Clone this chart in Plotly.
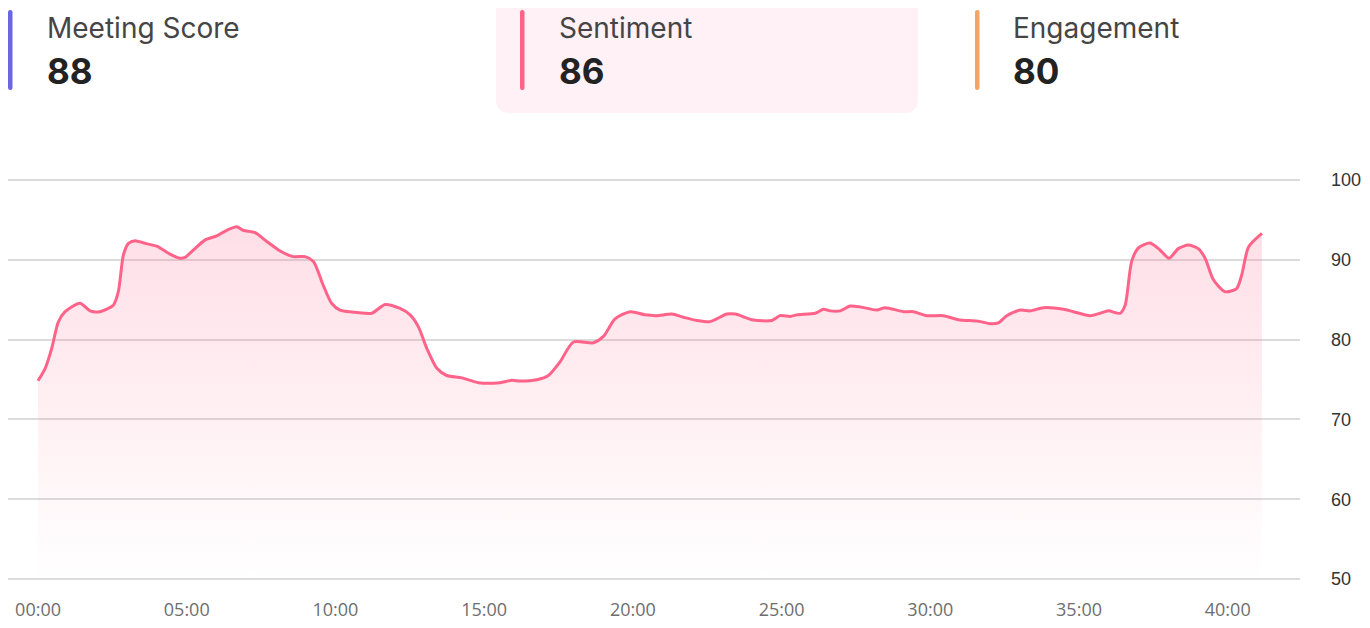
import plotly.graph_objects as go

# ---- data ----
time_min = [0, 0.24, 0.46, 0.68, 0.91, 1.41, 1.75, 2.08, 2.53, 2.70, 2.87, 3.04, 3.26, 3.6, 3.99,
            4.44, 4.77, 4.94, 5.22, 5.62, 6.01, 6.34, 6.68, 6.90, 7.30, 7.69, 8.14, 8.58, 8.98,
            9.26, 9.59, 9.87, 10.15, 10.72, 11.22, 11.67, 12.17, 12.51, 12.79, 13.07, 13.41,
            13.74, 14.25, 14.81, 15.53, 15.93, 16.21, 16.77, 17.16, 17.55, 18.0, 18.67, 19.01,
            19.40, 19.91, 20.4, 20.8, 21.31, 21.7, 22.15, 22.6, 23.16, 23.44, 24.05, 24.67, 24.95,
            25.29, 25.51, 26.13, 26.41, 26.63, 26.97, 27.3, 27.64, 28.2, 28.48, 29.1, 29.43,
            29.88, 30.44, 30.94, 31.62, 32.01, 32.29, 32.57, 33.02, 33.36, 33.8, 34.48, 34.81,
            35.37, 35.71, 35.99, 36.38, 36.55, 36.77, 37.0, 37.39, 37.73, 38.03, 38.34, 38.68,
            39.01, 39.24, 39.52, 39.91, 40.3, 40.47, 40.7, 41.15]
sentiment = [74.85, 76.4, 78.9, 82.2, 83.5, 84.55, 83.6, 83.5, 84.3, 86.0, 90.6, 92.06, 92.4, 92.06, 91.7,
             90.7, 90.2, 90.3, 91.2, 92.5, 93.0, 93.7, 94.15, 93.7, 93.4, 92.3, 91.1, 90.4, 90.4,
             89.8, 86.8, 84.55, 83.7, 83.4, 83.3, 84.4, 83.9, 83.1, 81.6, 78.9, 76.4,
             75.5, 75.2, 74.6, 74.6, 74.9, 74.8, 74.97, 75.5, 77.2, 79.7, 79.6, 80.4,
             82.6, 83.5, 83.1, 83.0, 83.2, 82.8, 82.4, 82.25, 83.2, 83.2, 82.45, 82.4, 83.0,
             82.9, 83.1, 83.3, 83.8, 83.6, 83.6, 84.2, 84.1, 83.7, 84.0, 83.5, 83.5,
             83.0, 83.0, 82.5, 82.3, 82.0, 82.1, 83.0, 83.7, 83.6, 84.0, 83.8, 83.5,
             83.0, 83.3, 83.6, 83.3, 84.3, 89.8, 91.5, 92.1, 91.2, 90.2, 91.4, 91.85,
             91.4, 90.2, 87.5, 86.0, 86.4, 88.1, 91.6, 93.3]
x_tick_vals = [0, 5, 10, 15, 20, 25, 30, 35, 40]
x_tick_text = ["00:00", "05:00", "10:00", "15:00", "20:00", "25:00", "30:00", "35:00", "40:00"]
y_tick_vals = [50, 60, 70, 80, 90, 100]

metric_names = ["Meeting Score", "Sentiment", "Engagement"]
metric_values = ["88", "86", "80"]
metric_colors = ["#6B66E6", "#FF6289", "#F5A463"]

# ---- layout geometry (pixels); the page body adds an 8px offset ----
OFF = 8
W, H = 1362, 620
L, R, T, B = 0, 70, 170, 47
PW, PH = W - L - R, H - T - B


def px(x):
    return (x - OFF - L) / PW


def py(y):
    return (H - B - (y - OFF)) / PH


def rrect(x0, y0, x1, y1, r):
    pts = [
        ("M", [(x0 + r, y0)]), ("L", [(x1 - r, y0)]), ("Q", [(x1, y0), (x1, y0 + r)]),
        ("L", [(x1, y1 - r)]), ("Q", [(x1, y1), (x1 - r, y1)]), ("L", [(x0 + r, y1)]),
        ("Q", [(x0, y1), (x0, y1 - r)]), ("L", [(x0, y0 + r)]), ("Q", [(x0, y0), (x0 + r, y0)]),
    ]
    s = ""
    for cmd, ps in pts:
        s += cmd + " " + " ".join(f"{px(a):.5f},{py(b):.5f}" for a, b in ps) + " "
    return s + "Z"


fig = go.Figure()
fig.add_trace(go.Scatter(
    x=time_min, y=sentiment, mode="lines",
    line=dict(color="#FF6389", width=3, shape="spline", smoothing=0.7),
    fill="tozeroy",
    fillgradient=dict(type="vertical", start=50, stop=93,
                      colorscale=[[0, "rgba(255,98,137,0.0)"], [1, "rgba(255,98,137,0.2)"]]),
    hoverinfo="skip", showlegend=False,
))

shapes = []
annotations = []
# sentiment highlighted card
shapes.append(dict(type="path", xref="paper", yref="paper", path=rrect(496, -20, 918, 113, 14),
                   fillcolor="#FFF1F5", line=dict(width=0), layer="below"))
bar_x = [8, 520, 975]
text_x = [45, 557, 1011]
for i in range(3):
    shapes.append(dict(type="path", xref="paper", yref="paper",
                       path=rrect(bar_x[i], 10, bar_x[i] + 4.5, 90, 2.2),
                       fillcolor=metric_colors[i], line=dict(width=0)))
    annotations.append(dict(xref="paper", yref="paper", x=px(text_x[i]), y=py(28),
                            xanchor="left", yanchor="middle", showarrow=False,
                            text=metric_names[i],
                            font=dict(family="Inter", size=28, color="#454545")))
    annotations.append(dict(xref="paper", yref="paper", x=px(text_x[i]), y=py(71),
                            xanchor="left", yanchor="middle", showarrow=False,
                            text=f"<b>{metric_values[i]}</b>",
                            font=dict(family="Inter", size=35, color="#222222")))

fig.update_layout(
    width=W, height=H, autosize=False,
    margin=dict(l=L, r=R, t=T, b=B, pad=0),
    paper_bgcolor="white", plot_bgcolor="white",
    shapes=shapes, annotations=annotations,
    xaxis=dict(range=[-1.01, 42.43], tickvals=x_tick_vals, ticktext=x_tick_text,
               showgrid=False, zeroline=False, showline=False, ticks="",
               ticklabelstandoff=16,
               tickfont=dict(family="Open Sans", size=18, color="#6E6E6E")),
    yaxis=dict(range=[49.75, 100.25], tickvals=y_tick_vals, side="right",
               showgrid=True, gridcolor="#DCDCDC", gridwidth=1.5,
               zeroline=False, showline=False, ticks="", ticklabelstandoff=30,
               tickfont=dict(family="Liberation Sans", size=18, color="#333333")),
)

fig.write_html(
    "out.html",
    config={"displayModeBar": False, "responsive": False},
    post_script=("document.documentElement.style.overflow='hidden';"
                 "document.body.style.overflow='hidden';"),
)
